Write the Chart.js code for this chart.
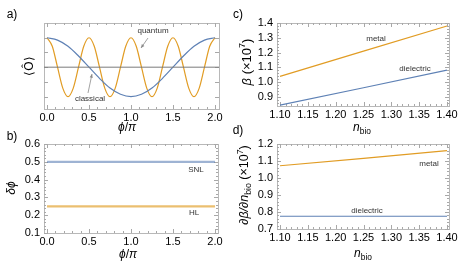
<!DOCTYPE html>
<html lang="en">
<head>
<meta charset="UTF-8" />
<title>Phase and sensitivity panels</title>
<script src="https://cdn.jsdelivr.net/npm/chart.js@4.4.0/dist/chart.umd.min.js"></script>
<style>
  html, body { margin: 0; padding: 0; background: #fff; }
  .stage { position: relative; width: 463px; height: 264px; }
  .stage canvas { position: absolute; left: 0; top: 0; }
</style>
</head>
<body>
<div class="stage">
  <canvas id="chartA" width="463" height="264"></canvas>
  <canvas id="chartB" width="463" height="264"></canvas>
  <canvas id="chartC" width="463" height="264"></canvas>
  <canvas id="chartD" width="463" height="264"></canvas>
</div>

<script>
// ---- data ----
// a) <O> against phi/pi
const phiQuantum = [0, 0.0625, 0.125, 0.1875, 0.25, 0.3125, 0.375, 0.4375, 0.5, 0.5625, 0.625, 0.6875, 0.75,
  0.8125, 0.875, 0.9375, 1, 1.0625, 1.125, 1.1875, 1.25, 1.3125, 1.375, 1.4375, 1.5, 1.5625, 1.625, 1.6875,
  1.75, 1.8125, 1.875, 1.9375, 2];
const quantumO = [1, 0.71, 0, -0.71, -1, -0.71, 0, 0.71, 1, 0.71, 0, -0.71, -1, -0.71, 0, 0.71,
  1, 0.71, 0, -0.71, -1, -0.71, 0, 0.71, 1, 0.71, 0, -0.71, -1, -0.71, 0, 0.71, 1];
const phiClassical = [0, 0.125, 0.25, 0.375, 0.5, 0.625, 0.75, 0.875, 1, 1.125, 1.25, 1.375, 1.5, 1.625, 1.75, 1.875, 2];
const classicalO = [1, 0.92, 0.71, 0.38, 0, -0.38, -0.71, -0.92, -1, -0.92, -0.71, -0.38, 0, 0.38, 0.71, 0.92, 1];
const baseLevel = 0;

// b) delta phi
const phiLimits = [0, 2];
const snl = [0.5, 0.5];
const hl = [0.25, 0.25];

// c) beta and d) dbeta/dn against n_bio
const nBio = [1.10, 1.25, 1.40];
const betaMetal = [1.04, 1.21, 1.38];
const betaDielectric = [0.846, 0.963, 1.082];
const slopeMetal = [1.072, 1.116, 1.161];
const slopeDielectric = [0.775, 0.775, 0.775];

// tick labels
const phiTicks = [0, 0.5, 1, 1.5, 2];
const oTicks = [-1, -0.5, 0, 0.5, 1];
const dphiTicks = [0.1, 0.2, 0.3, 0.4, 0.5, 0.6];
const nTicks = [1.10, 1.15, 1.20, 1.25, 1.30, 1.35, 1.40];
const betaTicks = [0.9, 1.0, 1.1, 1.2, 1.3, 1.4];
const slopeTicks = [0.7, 0.8, 0.9, 1.0, 1.1, 1.2];

const BLUE = '#5e81b5';
const ORANGE = '#e19c24';
const FONT = '"Liberation Sans", Arial, sans-serif';

Chart.defaults.font.family = FONT;
Chart.defaults.color = '#000';

function range(a, b, step) {
  const out = [];
  for (let v = a; v <= b + 1e-9; v += step) out.push(+v.toFixed(4));
  return out;
}

function pts(xs, ys) {
  return xs.map((x, i) => ({ x: x, y: ys[i] }));
}

// draws a string made of runs (italic, sub, sup), centred at x,y
function drawRich(ctx, item) {
  const size = item.size || 12;
  const runs = item.runs.map(r => {
    const s = (r.sub || r.sup) ? size * 0.7 : size;
    const font = (r.it ? 'italic ' : '') + s + 'px ' + FONT;
    ctx.font = font;
    return { t: r.t, font: font, w: ctx.measureText(r.t).width, dy: r.sub ? size * 0.3 : (r.sup ? -size * 0.35 : 0) };
  });
  const total = runs.reduce((s, r) => s + r.w, 0);
  ctx.save();
  ctx.translate(item.x, item.y);
  if (item.rot) ctx.rotate(-Math.PI / 2);
  ctx.fillStyle = item.color || '#000';
  ctx.textBaseline = 'middle';
  ctx.textAlign = 'left';
  let x = -total / 2;
  runs.forEach(r => {
    ctx.font = r.font;
    ctx.fillText(r.t, x, r.dy);
    x += r.w;
  });
  ctx.restore();
}

function drawArrow(ctx, a) {
  const ang = Math.atan2(a.y2 - a.y1, a.x2 - a.x1);
  ctx.save();
  ctx.strokeStyle = '#8a8a8a';
  ctx.fillStyle = '#8a8a8a';
  ctx.lineWidth = 0.8;
  ctx.beginPath();
  ctx.moveTo(a.x1, a.y1);
  ctx.lineTo(a.x2, a.y2);
  ctx.stroke();
  ctx.beginPath();
  ctx.moveTo(a.x2, a.y2);
  ctx.lineTo(a.x2 - 4 * Math.cos(ang - 0.4), a.y2 - 4 * Math.sin(ang - 0.4));
  ctx.lineTo(a.x2 - 4 * Math.cos(ang + 0.4), a.y2 - 4 * Math.sin(ang + 0.4));
  ctx.closePath();
  ctx.fill();
  ctx.restore();
}

// frame with inward ticks, labels and arrows
const deco = {
  id: 'deco',
  beforeDatasetsDraw(chart, args, opts) {
    const { ctx, chartArea: a, scales } = chart;
    ctx.save();
    ctx.strokeStyle = '#b8b8b8';
    ctx.lineWidth = 1;
    ctx.strokeRect(Math.round(a.left) + 0.5, Math.round(a.top) + 0.5,
      Math.round(a.right - a.left), Math.round(a.bottom - a.top));
    ctx.strokeStyle = '#a8a8a8';
    const xTick = (v, len) => {
      const p = Math.round(scales.x.getPixelForValue(v)) + 0.5;
      ctx.beginPath();
      ctx.moveTo(p, a.bottom); ctx.lineTo(p, a.bottom - len);
      ctx.moveTo(p, a.top); ctx.lineTo(p, a.top + len);
      ctx.stroke();
    };
    const yTick = (v, len) => {
      const p = Math.round(scales.y.getPixelForValue(v)) + 0.5;
      ctx.beginPath();
      ctx.moveTo(a.left, p); ctx.lineTo(a.left + len, p);
      ctx.moveTo(a.right, p); ctx.lineTo(a.right - len, p);
      ctx.stroke();
    };
    opts.xMajor.forEach(v => xTick(v, 4));
    opts.xMinor.forEach(v => xTick(v, 2));
    opts.yMajor.forEach(v => yTick(v, 4));
    opts.yMinor.forEach(v => yTick(v, 2));
    ctx.restore();
  },
  afterDraw(chart, args, opts) {
    const ctx = chart.ctx;
    (opts.arrows || []).forEach(a => drawArrow(ctx, a));
    (opts.texts || []).forEach(t => drawRich(ctx, t));
  }
};

// axis boxes take the whole margin so that their labels are not clipped
function xAxis(min, max, ticks, dec, band) {
  return {
    type: 'linear', min: min, max: max,
    afterFit: s => { s.height = band; },
    afterBuildTicks: s => { s.ticks = ticks.map(v => ({ value: v })); },
    grid: { display: false, drawTicks: false },
    border: { display: false },
    ticks: { padding: 2, autoSkip: false, maxRotation: 0, font: { size: 11 }, callback: v => v.toFixed(dec) }
  };
}

function yAxis(min, max, ticks, dec, show, band) {
  return {
    type: 'linear', min: min, max: max,
    afterFit: s => { s.width = band; },
    afterBuildTicks: s => { s.ticks = ticks.map(v => ({ value: v })); },
    grid: { display: false, drawTicks: false },
    border: { display: false },
    ticks: { display: show, padding: 4, font: { size: 11 }, callback: v => v.toFixed(dec) }
  };
}

function line(data, color, width, smooth) {
  return {
    data: data, borderColor: color, borderWidth: width, pointRadius: 0,
    fill: false, cubicInterpolationMode: smooth ? 'monotone' : 'default', tension: 0
  };
}

// frame = [left, top, right, bottom] of the plot box in page pixels
function makeChart(id, frame, datasets, x, y, decoOpts) {
  return new Chart(document.getElementById(id), {
    type: 'line',
    data: { datasets: datasets },
    options: {
      responsive: false,
      animation: false,
      events: [],
      layout: { padding: { left: 0, top: frame[1], right: 463 - frame[2], bottom: 0 } },
      plugins: { legend: { display: false }, tooltip: { enabled: false }, deco: decoOpts },
      scales: {
        x: xAxis(x[0], x[1], x[2], x[3], 264 - frame[3]),
        y: yAxis(y[0], y[1], y[2], y[3], y[4], frame[0])
      }
    },
    plugins: [deco]
  });
}

const phiTitle = [{ t: 'ϕ', it: 1 }, { t: '/' }, { t: 'π', it: 1 }];
const nTitle = [{ t: 'n', it: 1 }, { t: 'bio', sub: 1 }];
const NOTE = '#333';

// a)
makeChart('chartA', [44, 23, 219, 109], [
  line(pts([-0.04, 2.05], [baseLevel, baseLevel]), '#7a7a7a', 1, false),
  line(pts(phiClassical, classicalO), BLUE, 1.2, true),
  line(pts(phiQuantum, quantumO), ORANGE, 1.2, true)
], [-0.036, 2.048, phiTicks, 1], [-1.42, 1.5, oTicks, 1, false], {
  xMajor: phiTicks, xMinor: range(0, 2, 0.1), yMajor: oTicks, yMinor: [],
  texts: [
    { x: 12, y: 15, size: 12, runs: [{ t: 'a)' }] },
    { x: 30, y: 66, size: 12, rot: 1, runs: [{ t: '⟨Ô⟩' }] },
    { x: 127, y: 128, size: 12, runs: phiTitle },
    { x: 153, y: 31, size: 8, color: NOTE, runs: [{ t: 'quantum' }] },
    { x: 90, y: 99, size: 8, color: NOTE, runs: [{ t: 'classical' }] }
  ],
  arrows: [
    { x1: 148, y1: 38, x2: 141, y2: 48 },
    { x1: 88, y1: 93, x2: 92, y2: 74 }
  ]
});

// b)
makeChart('chartB', [44, 144, 218, 233], [
  line(pts(phiLimits, snl), 'rgba(94,129,181,0.6)', 2.2, false),
  line(pts(phiLimits, hl), 'rgba(225,156,36,0.65)', 2.2, false)
], [-0.036, 2.036, phiTicks, 1], [0.1, 0.6, dphiTicks, 1, true], {
  xMajor: phiTicks, xMinor: range(0, 2, 0.1), yMajor: dphiTicks, yMinor: range(0.1, 0.6, 0.02),
  texts: [
    { x: 12, y: 137, size: 12, runs: [{ t: 'b)' }] },
    { x: 12, y: 188, size: 12, rot: 1, runs: [{ t: 'δϕ', it: 1 }] },
    { x: 128, y: 255, size: 12, runs: phiTitle },
    { x: 196, y: 170, size: 8, color: NOTE, runs: [{ t: 'SNL' }] },
    { x: 194, y: 213, size: 8, color: NOTE, runs: [{ t: 'HL' }] }
  ]
});

// c)
makeChart('chartC', [277, 23, 449, 106], [
  line(pts(nBio, betaMetal), ORANGE, 1.2, false),
  line(pts(nBio, betaDielectric), BLUE, 1.2, false)
], [1.0946, 1.4036, nTicks, 2], [0.84, 1.4, betaTicks, 1, true], {
  xMajor: nTicks, xMinor: range(1.10, 1.40, 0.01), yMajor: betaTicks, yMinor: range(0.86, 1.4, 0.02),
  texts: [
    { x: 238, y: 15, size: 12, runs: [{ t: 'c)' }] },
    { x: 247, y: 62, size: 13, rot: 1, runs: [{ t: 'β', it: 1 }, { t: ' (×10' }, { t: '7', sup: 1 }, { t: ')' }] },
    { x: 362, y: 128, size: 12, runs: nTitle },
    { x: 376, y: 39, size: 8, color: NOTE, runs: [{ t: 'metal' }] },
    { x: 415, y: 69, size: 8, color: NOTE, runs: [{ t: 'dielectric' }] }
  ]
});

// d)
makeChart('chartD', [277, 144, 449, 229], [
  line(pts(nBio, slopeMetal), ORANGE, 1.2, false),
  line(pts(nBio, slopeDielectric), BLUE, 1.2, false)
], [1.0946, 1.4036, nTicks, 2], [0.7, 1.2, slopeTicks, 1, true], {
  xMajor: nTicks, xMinor: range(1.10, 1.40, 0.01), yMajor: slopeTicks, yMinor: range(0.7, 1.2, 0.02),
  texts: [
    { x: 238, y: 131, size: 12, runs: [{ t: 'd)' }] },
    { x: 245, y: 185, size: 12.5, rot: 1, runs: [{ t: '∂β/∂n', it: 1 }, { t: 'bio', sub: 1 }, { t: ' (×10' }, { t: '7', sup: 1 }, { t: ')' }] },
    { x: 363, y: 254, size: 12, runs: nTitle },
    { x: 429, y: 164, size: 8, color: NOTE, runs: [{ t: 'metal' }] },
    { x: 367, y: 211, size: 8, color: NOTE, runs: [{ t: 'dielectric' }] }
  ]
});
</script>
</body>
</html>
